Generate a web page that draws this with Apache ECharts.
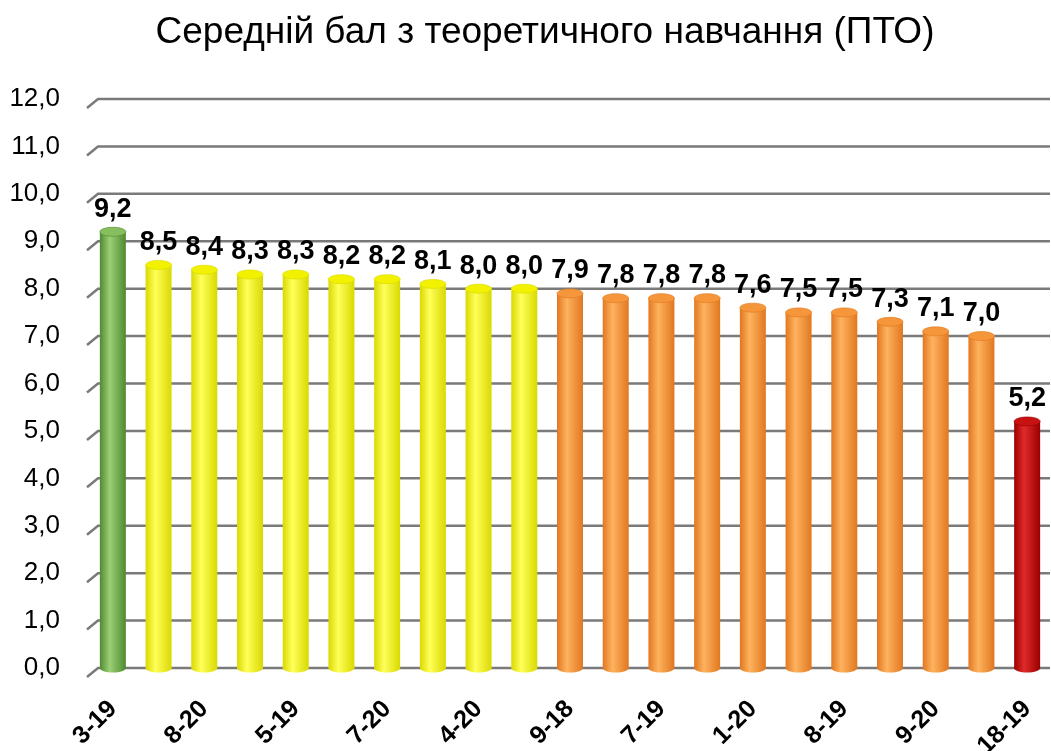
<!DOCTYPE html>
<html><head><meta charset="utf-8">
<script src="https://cdn.jsdelivr.net/npm/echarts@6/dist/echarts.min.js"></script>
<style>html,body{margin:0;padding:0;background:#fff}#c{width:1051px;height:751px}</style>
</head><body><div id="c"></div>
<script>
const title = 'Середній бал з теоретичного навчання (ПТО)';
const categories = ['3-19','6-19','8-20','3-20','5-19','6-20','7-20','5-20','4-20','4-19','9-18','9-19','7-19','2-20','1-20','2-19','8-19','1-19','9-20','10-19','18-19'];
const values = [9.2,8.5,8.4,8.3,8.3,8.2,8.2,8.1,8.0,8.0,7.9,7.8,7.8,7.8,7.6,7.5,7.5,7.3,7.1,7.0,5.2];
const yTicks = [0,1,2,3,4,5,6,7,8,9,10,11,12];

const palettes = {
  green:  {edge:'#4f8a30', mid:'#9bd075', cap:'#86bf5e'},
  yellow: {edge:'#d9d900', mid:'#ffff5a', cap:'#f2f200'},
  orange: {edge:'#e07820', mid:'#ffb25e', cap:'#f5963a'},
  red:    {edge:'#9a0000', mid:'#e02a2a', cap:'#c81212'}
};
function pal(v){ if(v>=9) return palettes.green; if(v>=7.95) return palettes.yellow; if(v>=6.95) return palettes.orange; return palettes.red; }
function grad(p){ return {type:'linear',x:0,y:0,x2:1,y2:0,colorStops:[{offset:0,color:p.edge},{offset:0.38,color:p.mid},{offset:1,color:p.edge}]}; }
const BW = 26;
const fmt = v => v.toFixed(1).replace('.',',');
const FONT = '"Liberation Sans",Arial,sans-serif';

const chart = echarts.init(document.getElementById('c'));
chart.setOption({
  backgroundColor:'#fff',
  animation:false,
  title:{text:title,left:540,top:9,textAlign:'center',textStyle:{fontFamily:FONT,fontSize:37,fontWeight:'normal',color:'#000'}},
  grid:{left:90,right:1,top:99,bottom:83,containLabel:false,outerBoundsMode:'none'},
  xAxis:{type:'category',data:categories,
    axisLine:{show:false},axisTick:{show:false},
    axisLabel:{interval:1,rotate:45,margin:37,fontFamily:FONT,fontSize:25,fontWeight:'bold',color:'#000'}},
  yAxis:{type:'value',min:0,max:12,interval:1,
    axisLine:{show:false},axisTick:{show:false},splitLine:{show:false},
    axisLabel:{margin:30,formatter:fmt,fontFamily:FONT,fontSize:26,color:'#000'}},
  series:[
    {type:'custom',z:1,silent:true,
      data:yTicks.map(t=>[0,t]),
      renderItem:(params,api)=>{
        const cs=params.coordSys; const y=api.coord([0,api.value(1)])[1];
        return {type:'polyline',shape:{points:[[cs.x-3,y+9],[cs.x+8,y],[cs.x+cs.width,y]]},
          style:{stroke:'#7a7a7a',lineWidth:2.5,fill:null}};
      }},
    {type:'custom',z:3,silent:true,
      data:values.map((v,i)=>[i,v]),
      renderItem:(params,api)=>{
        const i=api.value(0), v=api.value(1); const p=pal(v);
        const top=api.coord([i,v]); const base=api.coord([i,0]);
        return {type:'group',children:[
          {type:'ellipse',shape:{cx:base[0],cy:base[1],rx:BW/2,ry:4.5},style:{fill:grad(p)}},
          {type:'rect',shape:{x:base[0]-BW/2,y:top[1],width:BW,height:base[1]-top[1]},style:{fill:grad(p)}},
          {type:'ellipse',shape:{cx:top[0],cy:top[1],rx:BW/2,ry:4.5},style:{fill:p.cap,stroke:p.edge,lineWidth:0.6}}
        ]};
      }},
    {type:'bar',z:4,barWidth:BW,
      data:values.map(v=>({value:v})),
      itemStyle:{color:'rgba(0,0,0,0)'},
      label:{show:true,position:'top',distance:9,formatter:p=>fmt(p.value),fontFamily:FONT,fontSize:27,fontWeight:'bold',color:'#000'}}
  ]
});
</script></body></html>
